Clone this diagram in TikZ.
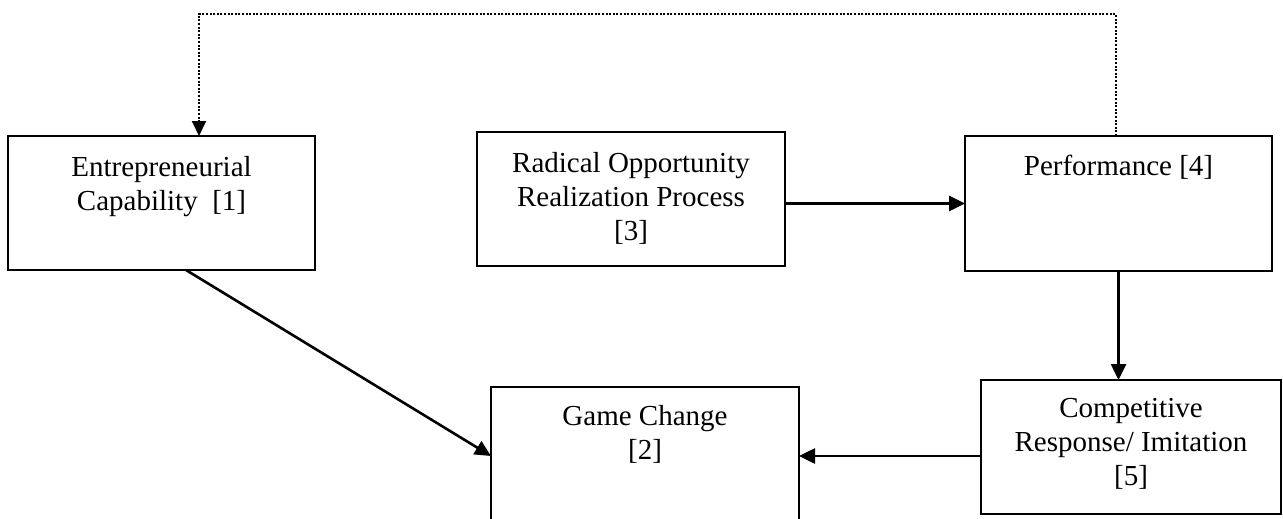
\documentclass[tikz,border=0pt]{standalone}
\usepackage{fontspec}
\setmainfont{Liberation Serif}
\usetikzlibrary{arrows.meta}
\begin{document}
\begin{tikzpicture}[x=1pt,y=-1pt,
  box/.style={draw=black, line width=2pt, inner sep=0pt, outer sep=0pt,
    anchor=north west, fill=none},
  lbl/.style={anchor=north, inner sep=0pt, align=center,
    font=\fontsize{29pt}{34pt}\selectfont},
  arr/.style={line width=2.6pt, -{Triangle[length=16pt,width=15pt]}},
  fb/.style={line width=2pt, dash pattern=on 2pt off 1.6pt,
    -{Triangle[length=15pt,width=14pt]}}]
\useasboundingbox (0,0) rectangle (1283,519);
\clip (0,0) rectangle (1283,519);

% boxes
\node[box, minimum width=307pt, minimum height=134pt] (E) at (8,136) {};
\node[box, minimum width=308pt, minimum height=134pt] (R) at (477,132) {};
\node[box, minimum width=307pt, minimum height=135pt] (P) at (965,136) {};
\node[box, minimum width=308pt, minimum height=138pt] (G) at (491,387) {};
\node[box, minimum width=300pt, minimum height=134pt] (C) at (981,380) {};

% box texts
\node[lbl] (Et) at ([yshift=-20pt]E.north) {Entrepreneurial\\Capability\ \ [1]};
\node[lbl] (Rt) at ([yshift=-20pt]R.north) {Radical Opportunity\\Realization Process\\{[3]}};
\node[lbl] (Pt) at ([yshift=-19pt]P.north) {Performance [4]};
\node[lbl] (Gt) at ([yshift=-18pt]G.north) {Game Change\\{[2]}};
\node[lbl] (Ct) at ([yshift=-18pt]C.north) {Competitive\\Response/ Imitation\\{[5]}};

% connectors
\draw[arr] (R.east |- P.west) -- (P.west);
\draw[arr] (P.south) -- (P.south |- C.north);
\draw[arr] (C.west |- G.east) -- (G.east);
\draw[arr] ([xshift=24.5pt]E.south) -- (G.west);

% dotted feedback loop
\coordinate (top) at (0,14);
\coordinate (fbE) at ([xshift=37.5pt]E.north);
\draw[fb] ([xshift=-3pt]P.north) -- ([xshift=-3pt]P.north |- top) -| (fbE);
\end{tikzpicture}
\end{document}
